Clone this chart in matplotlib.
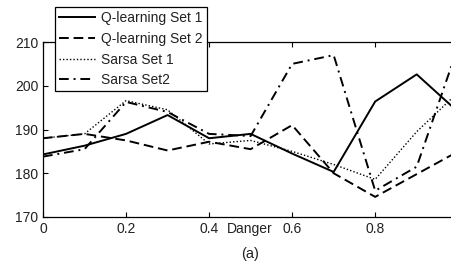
import matplotlib
matplotlib.use("Agg")
import matplotlib.pyplot as plt

plt.rcParams['font.family'] = ['Liberation Sans', 'DejaVu Sans']

danger = [0.0, 0.1, 0.2, 0.3, 0.4, 0.5, 0.6, 0.7, 0.8, 0.9, 1.0]
q_set1 = [184.3, 186.3, 189.0, 193.3, 188.0, 189.0, 184.5, 180.3, 196.4, 202.6, 194.0]
q_set2 = [188.0, 189.0, 187.5, 185.2, 187.2, 185.5, 191.0, 180.0, 174.6, 179.8, 185.0]
sarsa_set1 = [188.0, 189.0, 196.6, 194.5, 186.7, 187.5, 185.0, 182.0, 178.6, 189.5, 198.5]
sarsa_set2 = [183.8, 185.5, 196.3, 194.0, 189.0, 188.5, 205.0, 207.0, 176.0, 181.5, 209.0]
labels = ['Q-learning Set 1', 'Q-learning Set 2', 'Sarsa Set 1', 'Sarsa Set2']
xticks = [0, 0.2, 0.4, 0.6, 0.8]
yticks = [170, 180, 190, 200, 210]

W, H = 452, 270
fig = plt.figure(figsize=(W / 100, H / 100), dpi=100)
ax = fig.add_axes([43 / W, 1 - 217 / H, (W - 43) / W, (217 - 42) / H])

lw = 1.4
ax.plot(danger, q_set1, color='black', lw=lw, linestyle='-', label=labels[0])
ax.plot(danger, q_set2, color='black', lw=lw, linestyle=(0, (5, 2.5)), label=labels[1])
ax.plot(danger, sarsa_set1, color='black', lw=1.0, linestyle=(0, (1, 1.5)), label=labels[2])
ax.plot(danger, sarsa_set2, color='black', lw=lw, linestyle=(0, (5, 2.5, 1, 2.5)), label=labels[3])

ax.set_xlim(0, 0.985)
ax.set_ylim(170, 210)
ax.set_xticks(xticks)
ax.set_xticklabels(['0', '0.2', '0.4', '0.6', '0.8'])
ax.set_yticks(yticks)
ax.tick_params(direction='in', length=3.5, width=0.8, labelsize=10, top=True, color='black', labelcolor='#222222')
ax.spines['right'].set_visible(False)
for s in ['left', 'bottom', 'top']:
    ax.spines[s].set_linewidth(0.9)

fig.text(250 / W, 1 - 229 / H, 'Danger', ha='center', va='center', fontsize=10, color='#222222')
fig.text(250 / W, 1 - 254 / H, '(a)', ha='center', va='center', fontsize=10.5, color='#222222')

leg = ax.legend(loc='upper left', bbox_to_anchor=(55 / W, 1 - 7 / H), bbox_transform=fig.transFigure,
                fontsize=10, frameon=True, fancybox=False, edgecolor='black', framealpha=1,
                borderaxespad=0, borderpad=0.3, labelspacing=0.48, handlelength=2.6, handletextpad=0.4)
leg.get_frame().set_linewidth(0.9)
for t in leg.get_texts():
    t.set_color('#222222')

fig.savefig('out.png', dpi=100)
